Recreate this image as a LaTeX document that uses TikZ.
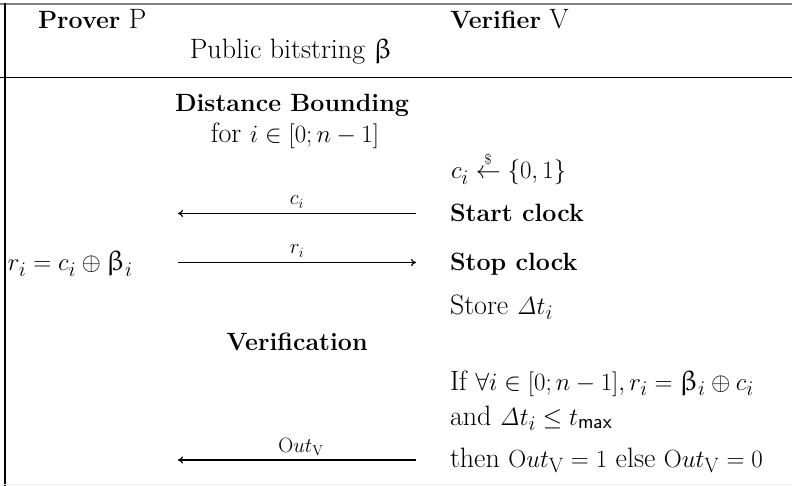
\documentclass[tikz,border=0pt]{standalone}
\usepackage{amsmath}
\usepackage{upgreek}
\usetikzlibrary{arrows.meta}
\newcommand{\Bd}[1]{{\fontsize{25}{30}\selectfont\bfseries #1}}
\newcommand{\OutV}{\mathrm{O}ut_{\mathrm{V}}}
\tikzset{
  txt/.style={inner sep=0pt, outer sep=0pt, font=\fontsize{28}{33}\selectfont},
  lft/.style={txt, anchor=base west},
  ctr/.style={txt, anchor=base},
  msg/.style={line width=1.2pt, -{To[length=5pt,width=7pt]}},
  lbl/.style={inner sep=0pt, anchor=base, font=\fontsize{21}{25}\selectfont},
}
\begin{document}
\begin{tikzpicture}[x=1pt,y=-1pt]
\useasboundingbox (0,0) rectangle (792,486);
% frame lines
\draw[line width=1.5pt, black!50] (0,3.8) -- (792,3.8);
\draw[line width=1.1pt] (5,3.5) -- (5,486);
\draw[line width=0.9pt] (0,77) -- (792,77);
\draw[line width=0.8pt, black!8] (0,484.5) -- (792,484.5);
% header
\node[lft] (prover) at (38,29) {\Bd{Prover} P};
\node[lft] (verifier) at (450,29) {\Bd{Verifier} V};
\node[ctr] (pub) at (291,59) {Public bitstring $\upbeta$};
% distance bounding
\node[ctr] (db) at (292,112) {\Bd{Distance Bounding}};
\node[ctr] (for) at (295,143) {for $i\in[0;n-1]$};
\node[lft] (ci) at (451,179) {$c_i \stackrel{\scriptscriptstyle\$}{\leftarrow} \{0,1\}$};
\node[lft] (start) at (450,222) {\Bd{Start clock}};
\node[lft] (stop) at (450,270) {\Bd{Stop clock}};
\node[lft] (store) at (450,314) {Store $\mathit{\Delta} t_i$};
\node[lft] (rcomp) at (8,271) {$r_i = c_i \oplus \upbeta_i$};
% verification
\node[ctr] (verif) at (297,350) {\Bd{Verification}};
\node[lft] (if) at (450,390) {If $\forall i\in[0;n-1], r_i = \upbeta_i \oplus c_i$};
\node[lft] (and) at (450,425) {and $\mathit{\Delta} t_i \le t_{\mathsf{max}}$};
\node[lft] (then) at (450,467) {then $\OutV = 1$ else $\OutV = 0$};
% message arrows
\coordinate (cR) at (416,213.5);
\coordinate (cL) at (178,213.5);
\coordinate (rL) at (178,262.5);
\coordinate (rR) at (416,262.5);
\coordinate (oR) at (416,460);
\coordinate (oL) at (178,460);
\draw[msg] (cR) -- (cL);
\draw[msg] (rL) -- (rR);
\draw[msg] (oR) -- (oL);
\node[lbl] (lc) at (297,205) {$c_i$};
\node[lbl] (lr) at (297,254) {$r_i$};
\node[lbl] (lo) at (301,452) {$\OutV$};
\end{tikzpicture}
\end{document}
